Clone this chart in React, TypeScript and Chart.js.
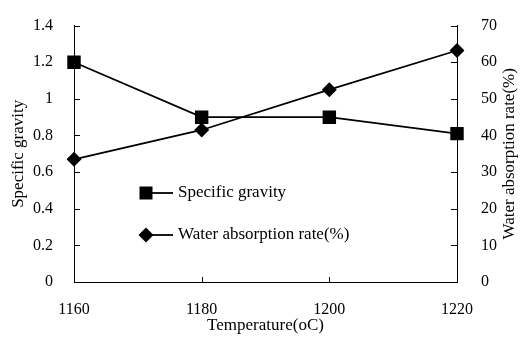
import React, { useEffect, useRef } from "react";
import { Chart, registerables } from "chart.js";

Chart.register(...registerables);

const temperatures = ["1160", "1180", "1200", "1220"];
const specificGravity = [1.2, 0.9, 0.9, 0.81];
const waterAbsorption = [33.5, 41.5, 52.5, 63.2];
const seriesNames = ["Specific gravity", "Water absorption rate(%)"];
const rightAxisTitle = "Water absorption rate(%)";

const FONT = "'Liberation Serif', 'Times New Roman', serif";

const decorPlugin = {
  id: "decor",
  afterDraw(chart: any) {
    const ctx = chart.ctx;
    const yL = chart.scales.y;
    const yR = chart.scales.y1;
    const x = chart.scales.x;
    const area = chart.chartArea;
    ctx.save();
    ctx.strokeStyle = "#000";
    ctx.lineWidth = 1;
    ctx.beginPath();
    yL.ticks.forEach((t: any) => {
      const py = Math.round(yL.getPixelForValue(t.value)) + 0.5;
      ctx.moveTo(area.left, py);
      ctx.lineTo(area.left + 6, py);
    });
    yR.ticks.forEach((t: any) => {
      const py = Math.round(yR.getPixelForValue(t.value)) + 0.5;
      ctx.moveTo(area.right, py);
      ctx.lineTo(area.right - 6, py);
    });
    for (let i = 1; i < temperatures.length - 1; i++) {
      const px = Math.round(x.getPixelForValue(i)) + 0.5;
      ctx.moveTo(px, area.bottom);
      ctx.lineTo(px, area.bottom - 5);
    }
    ctx.stroke();

    // right axis title, reading bottom-to-top
    ctx.save();
    ctx.font = "17px " + FONT;
    ctx.fillStyle = "#000";
    ctx.textAlign = "center";
    ctx.textBaseline = "middle";
    ctx.translate(510, (area.top + area.bottom) / 2);
    ctx.rotate(-Math.PI / 2);
    ctx.fillText(rightAxisTitle, 0, 0);
    ctx.restore();

    // legend
    const rows = [
      { y: 193, style: "rect" },
      { y: 235, style: "rectRot" },
    ];
    ctx.font = "17px " + FONT;
    ctx.fillStyle = "#000";
    ctx.textBaseline = "middle";
    ctx.textAlign = "left";
    rows.forEach((r, i) => {
      ctx.lineWidth = 1.8;
      ctx.beginPath();
      ctx.moveTo(146, r.y);
      ctx.lineTo(173, r.y);
      ctx.stroke();
      ctx.beginPath();
      if (r.style === "rect") {
        ctx.rect(146 - 6.5, r.y - 6.5, 13, 13);
      } else {
        ctx.moveTo(146 - 7.5, r.y);
        ctx.lineTo(146, r.y - 7.5);
        ctx.lineTo(146 + 7.5, r.y);
        ctx.lineTo(146, r.y + 7.5);
        ctx.closePath();
      }
      ctx.fill();
      ctx.fillText(seriesNames[i], 178, r.y);
    });
    ctx.restore();
  },
};

export default function App() {
  const ref = useRef<HTMLCanvasElement>(null);
  useEffect(() => {
    const tickFont = { family: FONT, size: 16 };
    const titleFont = { family: FONT, size: 17 };
    const chart = new Chart(ref.current!, {
      type: "line",
      data: {
        labels: temperatures,
        datasets: [
          {
            label: seriesNames[0],
            data: specificGravity,
            yAxisID: "y",
            borderColor: "#000",
            backgroundColor: "#000",
            borderWidth: 1.8,
            pointStyle: "rect",
            pointRadius: 9.5,
            pointBorderWidth: 0,
            pointBackgroundColor: "#000",
            tension: 0,
          },
          {
            label: seriesNames[1],
            data: waterAbsorption,
            yAxisID: "y1",
            borderColor: "#000",
            backgroundColor: "#000",
            borderWidth: 1.8,
            pointStyle: "rectRot",
            pointRadius: 7.5,
            pointBorderWidth: 0,
            pointBackgroundColor: "#000",
            tension: 0,
          },
        ],
      },
      options: {
        animation: false,
        responsive: false,
        layout: { padding: { top: 18, left: 0, right: 0, bottom: 0 } },
        plugins: { legend: { display: false }, tooltip: { enabled: false } },
        scales: {
          x: {
            type: "category",
            offset: false,
            grid: { display: false },
            border: { display: true, color: "#000", width: 1 },
            ticks: { color: "#000", font: tickFont, padding: 10, maxRotation: 0 },
            title: {
              display: true,
              text: "Temperature(oC)",
              color: "#000",
              font: titleFont,
              padding: { top: 0, bottom: 8 },
            },
            afterFit: (s: any) => {
              s.height = 62;
            },
          },
          y: {
            position: "left",
            min: 0,
            max: 1.4,
            grid: { display: false },
            border: { display: true, color: "#000", width: 1 },
            ticks: {
              stepSize: 0.2,
              color: "#000",
              font: tickFont,
              padding: 13,
              callback: (v: any) => String(Number(Number(v).toFixed(1))),
            },
            title: {
              display: true,
              text: "Specific gravity",
              color: "#000",
              font: titleFont,
              padding: { top: 8, bottom: 0 },
            },
            afterFit: (s: any) => {
              s.width = 74;
            },
          },
          y1: {
            position: "right",
            min: 0,
            max: 70,
            grid: { display: false },
            border: { display: true, color: "#000", width: 1 },
            ticks: { stepSize: 10, color: "#000", font: tickFont, padding: 16 },
            title: { display: false },
            afterFit: (s: any) => {
              s.width = 66;
            },
          },
        },
      },
      plugins: [decorPlugin],
    } as any);
    return () => chart.destroy();
  }, []);
  return (
    <div style={{ position: "fixed", left: 0, top: 0, width: 523, height: 344, background: "#fff" }}>
      <canvas ref={ref} width={523} height={344} style={{ width: 523, height: 344 }} />
    </div>
  );
}
